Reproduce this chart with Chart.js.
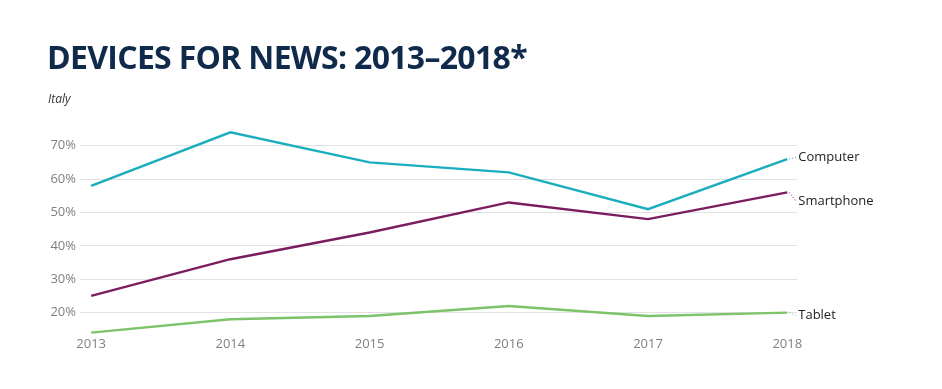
<!DOCTYPE html>
<html>
<head>
<meta charset="utf-8">
<script src="https://cdn.jsdelivr.net/npm/chart.js@4"></script>
<style>
  body { margin: 0; background: #fff; }
  #wrap { position: relative; width: 942px; height: 389px; }
  #title { position: absolute; left: 47px; top: 41px; line-height: 32px; font-family: "Open Sans", sans-serif; font-weight: 700; font-size: 32px; color: #0f2a4b; letter-spacing: -0.7px; white-space: nowrap; }
  #sub { position: absolute; left: 48px; top: 90px; font-family: "Open Sans", sans-serif; font-style: italic; font-size: 12px; color: #333; }
  canvas { position: absolute; left: 0; top: 0; }
</style>
</head>
<body>
<div id="wrap">
  <canvas id="devicesChart" width="942" height="389"></canvas>
  <div id="title">DEVICES FOR NEWS: 2013–2018*</div>
  <div id="sub">Italy</div>
</div>
<script>
const years = [2013, 2014, 2015, 2016, 2017, 2018];
const computer = [58, 74, 65, 62, 51, 66];
const smartphone = [25, 36, 44, 53, 48, 56];
const tablet = [14, 18, 19, 22, 19, 20];
const yTicks = [20, 30, 40, 50, 60, 70];

const seriesNames = ['Computer', 'Smartphone', 'Tablet'];
const seriesColors = ['#1aaebd', '#7b1c5e', '#7cc36a'];
// vertical nudge of the end labels, in px
const labelNudge = [-2, 9, 3];

function toPoints(vals) {
    return years.map((y, i) => ({ x: y, y: vals[i] }));
}

const endLabels = {
    id: 'endLabels',
    afterDatasetsDraw(chart) {
        const c = chart.ctx;
        c.save();
        c.font = '13px "Open Sans", sans-serif';
        c.textBaseline = 'middle';
        chart.data.datasets.forEach((ds, i) => {
            const meta = chart.getDatasetMeta(i);
            const last = meta.data[meta.data.length - 1];
            const tx = last.x + 11;
            const ty = last.y + labelNudge[i];
            c.strokeStyle = ds.borderColor;
            c.lineWidth = 1;
            c.setLineDash([1, 2]);
            c.beginPath();
            c.moveTo(last.x + 2, last.y);
            c.lineTo(tx - 2, ty);
            c.stroke();
            c.setLineDash([]);
            c.fillStyle = '#222';
            c.fillText(ds.label, tx, ty);
        });
        c.restore();
    }
};

const ctx = document.getElementById('devicesChart');

new Chart(ctx, {
    type: 'line',
    data: {
        datasets: [computer, smartphone, tablet].map((vals, i) => ({
            label: seriesNames[i],
            data: toPoints(vals),
            borderColor: seriesColors[i],
            borderWidth: 2.4,
            pointRadius: 0,
            tension: 0,
            fill: false
        }))
    },
    options: {
        responsive: false,
        animation: false,
        layout: { padding: { left: 48, right: 145, top: 129, bottom: 23 } },
        plugins: {
            legend: { display: false },
            tooltip: { enabled: false }
        },
        scales: {
            x: {
                type: 'linear',
                min: 2012.92,
                max: 2018.07,
                afterBuildTicks: scale => { scale.ticks = years.map(v => ({ value: v })); },
                afterFit: scale => { scale.height = 30; },
                grid: { display: false, drawTicks: false },
                border: { display: false },
                ticks: {
                    callback: v => String(v),
                    color: '#808080',
                    font: { family: 'Open Sans', size: 13 },
                    padding: 0,
                    maxRotation: 0
                }
            },
            y: {
                min: 13,
                max: 75,
                afterBuildTicks: scale => { scale.ticks = yTicks.map(v => ({ value: v })); },
                afterFit: scale => { scale.width = 32; },
                grid: { color: '#e2e2e2', drawTicks: false },
                border: { display: false },
                ticks: {
                    callback: v => v + '%',
                    color: '#808080',
                    font: { family: 'Open Sans', size: 13 },
                    padding: 4
                }
            }
        }
    },
    plugins: [endLabels]
});
</script>
</body>
</html>
